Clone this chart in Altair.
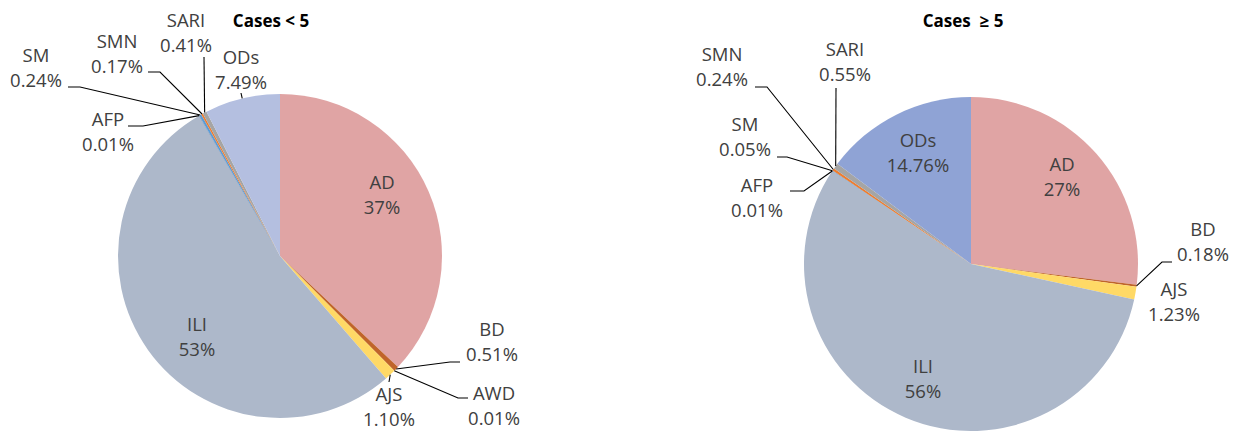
import math
import altair as alt
import pandas as pd

# ---------------- data ----------------
cats_lt5 = ["AD", "BD", "AWD", "AJS", "ILI", "AFP", "SM", "SMN", "SARI", "ODs"]
vals_lt5 = [37, 0.51, 0.01, 1.10, 53, 0.01, 0.24, 0.17, 0.41, 7.49]
cats_ge5 = ["AD", "BD", "AJS", "ILI", "AFP", "SM", "SMN", "SARI", "ODs"]
vals_ge5 = [27, 0.18, 1.23, 56, 0.01, 0.05, 0.24, 0.55, 14.76]
title_lt5 = "Cases < 5"
title_ge5 = "Cases \u00a0\u2265 5"

# ---------------- styles / layout ----------------
FONT = "Open Sans"
TXT = "#404040"
FS = 18.5
LH = 25
OFF = 8  # page margin

palette_lt5 = {"AD": "#E0A4A4", "BD": "#C0642A", "AWD": "#BF9000", "AJS": "#FFD966",
               "ILI": "#ADB8CA", "AFP": "#264478", "SM": "#5B9BD5", "SMN": "#ED7D31",
               "SARI": "#A5A5A5", "ODs": "#B4BFE0"}
palette_ge5 = dict(palette_lt5, ODs="#8FA3D5")

pie_lt5 = dict(cx=280, cy=256, r=162, tx=271, ty=22)
pie_ge5 = dict(cx=971, cy=264, r=167, tx=963, ty=22)

# first-line centre of each two-line label (page coordinates)
lab_lt5 = {"AD": (382, 183), "BD": (492, 330), "AWD": (494, 394), "AJS": (389, 395),
           "ILI": (197, 325), "AFP": (108, 120), "SM": (36, 56), "SMN": (117, 42),
           "SARI": (186, 21), "ODs": (241, 58)}
lab_ge5 = {"AD": (1062, 165), "BD": (1203, 230), "AJS": (1174, 290), "ILI": (923, 367),
           "AFP": (757, 186), "SM": (745, 125), "SMN": (722, 55), "SARI": (845, 50),
           "ODs": (918, 141)}

# label-side points of leader lines (page coordinates); slice point added from data
lead_lt5 = {"SARI": [(204, 57)], "SMN": [(148, 72), (160, 72)], "SM": [(68, 87), (80, 87)],
            "AFP": [(128, 126), (143, 126)], "ODs": [(241, 93)],
            "BD": [(460, 362), (450, 362)], "AWD": [(468, 398), (458, 398)],
            "AJS": [(389, 382)]}
lead_ge5 = {"SARI": [(836, 88)], "SMN": [(755, 87), (767, 87)], "SM": [(777, 157), (787, 157)],
            "AFP": [(790, 191), (804, 191)], "BD": [(1172, 262), (1162, 262)]}


def fmt(v):
    return f"{v:.0f}%" if float(v) == int(v) else f"{v:.2f}%"


def build(cats, vals, palette, geo, labs, leads, title):
    total = sum(vals)
    df = pd.DataFrame({"cat": cats, "value": vals, "idx": list(range(len(cats)))})
    df["color"] = df["cat"].map(palette)

    arc = alt.Chart(df).mark_arc(outerRadius=geo["r"]).encode(
        theta=alt.Theta("value:Q", stack=True),
        order=alt.Order("idx:Q"),
        color=alt.Color("color:N", scale=None),
        x=alt.value(geo["cx"] - OFF),
        y=alt.value(geo["cy"] - OFF),
    )

    rows = []
    for c, v in zip(cats, vals):
        lx, ly = labs[c]
        rows.append({"t": c, "x": lx - OFF, "y": ly - OFF})
        rows.append({"t": fmt(v), "x": lx - OFF, "y": ly + LH - OFF})
    text = alt.Chart(pd.DataFrame(rows)).mark_text(
        font=FONT, fontSize=FS, color=TXT, align="center", baseline="middle"
    ).encode(x=alt.X("x:Q", scale=None), y=alt.Y("y:Q", scale=None), text="t:N")

    lrows = []
    cum = 0.0
    for c, v in zip(cats, vals):
        mid = (cum + v / 2) / total * 2 * math.pi
        cum += v
        if c in leads:
            px = geo["cx"] + geo["r"] * math.sin(mid)
            py = geo["cy"] - geo["r"] * math.cos(mid)
            pts = leads[c] + [(px, py)]
            for k, (x, y) in enumerate(pts):
                lrows.append({"lid": c, "k": k, "x": x - OFF, "y": y - OFF})
    lines = alt.Chart(pd.DataFrame(lrows)).mark_line(color="#000000", strokeWidth=1.1).encode(
        x=alt.X("x:Q", scale=None), y=alt.Y("y:Q", scale=None),
        detail="lid:N", order="k:Q",
    )

    ttl = alt.Chart(pd.DataFrame({"t": [title], "x": [geo["tx"] - OFF], "y": [geo["ty"] - OFF]})).mark_text(
        font=FONT, fontSize=17, fontWeight="bold", color="#000000", align="center", baseline="middle"
    ).encode(x=alt.X("x:Q", scale=None), y=alt.Y("y:Q", scale=None), text="t:N")

    return [arc, lines, text, ttl]


layers = build(cats_lt5, vals_lt5, palette_lt5, pie_lt5, lab_lt5, lead_lt5, title_lt5) + \
    build(cats_ge5, vals_ge5, palette_ge5, pie_ge5, lab_ge5, lead_ge5, title_ge5)

chart = alt.layer(*layers).resolve_scale(theta="independent").properties(
    width=1222, height=423, padding=0, autosize="none", background="#FFFFFF"
).configure_view(stroke=None)

chart.save("out.html", embed_options={"renderer": "svg", "actions": False})
